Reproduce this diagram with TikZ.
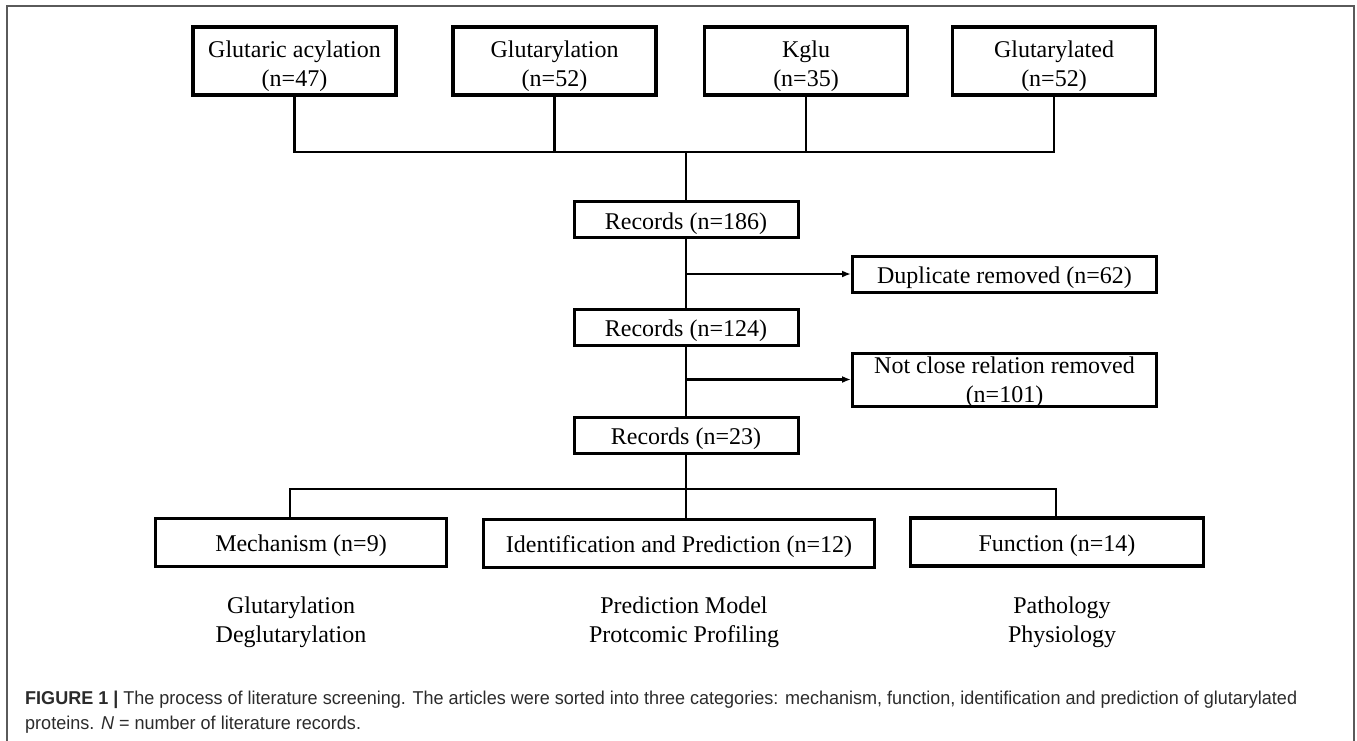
\documentclass[tikz,border=0pt]{standalone}
\usepackage{fontspec}
\usepackage{graphicx}
\setmainfont{Liberation Serif}
\newfontfamily\capfont{Liberation Sans}
\usetikzlibrary{arrows.meta}
\definecolor{framegray}{HTML}{5A5A5A}
\definecolor{captext}{HTML}{2B2B2B}
\newcommand\dfont{\fontsize{24}{29}\selectfont}
% text lowered/raised inside a box without changing the box size
\newcommand\bt[2]{\raisebox{#1}[0pt][0pt]{\begin{tabular}[t]{@{}c@{}}#2\end{tabular}}}
\newlength\capw
\begin{document}
\settowidth\capw{\capfont\fontsize{18.6}{25}\selectfont\textbf{FIGURE 1 |} The process of literature screening. The articles were sorted into three categories: mechanism, function, identification and prediction of glutarylated}
\pgfmathsetmacro\capsx{1272/\capw}
\begin{tikzpicture}[x=1pt,y=-1pt,
  topbox/.style={draw, rectangle, line width=3.8pt, inner sep=0pt, font=\dfont,
    minimum width=203pt, minimum height=68pt},
  recbox/.style={draw, rectangle, line width=3pt, inner sep=0pt, font=\dfont,
    minimum width=224pt, minimum height=36pt},
  sidebox/.style={draw, rectangle, line width=3pt, inner sep=0pt, font=\dfont,
    minimum width=304pt},
  catbox/.style={draw, rectangle, line width=3.4pt, inner sep=0pt, font=\dfont,
    minimum height=48pt},
  sublabel/.style={font=\dfont, inner sep=0pt},
  conn/.style={line width=2.5pt},
  arr/.style={conn, -{Latex[length=9pt,width=7pt]}},
  captxt/.style={anchor=base west, inner sep=0pt, text=captext, font=\capfont\fontsize{18.6}{25}\selectfont}]
\useasboundingbox (0,0) rectangle (1357,740);
% outer frame
\draw[framegray, line width=1.6pt] (7,741) -- (7,6) -- (1354,6) -- (1354,741);

% top boxes
\node[topbox] (t1) at (294.5,61) {\bt{3.7pt}{Glutaric acylation\\(n=47)}};
\node[topbox] (t2) at (554.5,61) {\bt{3.7pt}{Glutarylation\\(n=52)}};
\node[topbox] (t3) at (806,61) {\bt{3.7pt}{Kglu\\(n=35)}};
\node[topbox] (t4) at (1054,61) {\bt{3.7pt}{Glutarylated\\(n=52)}};
\coordinate (hbar) at (0,152);

% records
\node[recbox] (r1) at (686,219.5) {\bt{-9.5pt}{Records (n=186)}};
\node[recbox] (r2) at (686,327) {\bt{-9.5pt}{Records (n=124)}};
\node[recbox] (r3) at (686,435) {\bt{-9.5pt}{Records (n=23)}};

% side boxes
\node[sidebox, minimum height=36pt] (d1) at (1004.5,274) {\bt{-9.2pt}{Duplicate removed (n=62)}};
\node[sidebox, minimum height=53pt] (d2) at (1004.5,379.5) {\bt{5.8pt}{Not close relation removed\\(n=101)}};

% category boxes
\node[catbox, minimum width=291pt] (m) at (301,542.5) {\bt{-9pt}{Mechanism (n=9)}};
\node[catbox, minimum width=391pt] (id) at (679,543.5) {\bt{-9pt}{Identification and Prediction (n=12)}};
\node[catbox, minimum width=293pt] (f) at (1057,542) {\bt{-9pt}{Function (n=14)}};
\coordinate (ms) at (290,489);
\coordinate (fs) at (1056,489);

% sub labels (node centre = first baseline)
\node[sublabel] (s1) at (291,613) {\bt{0pt}{Glutarylation\\Deglutarylation}};
\node[sublabel] (s2) at (684,613) {\bt{0pt}{Prediction Model\\Protcomic Profiling}};
\node[sublabel] (s3) at (1062,613) {\bt{0pt}{Pathology\\Physiology}};

% connectors: top
\draw[conn] (t1.south) -- (t1.south |- hbar) -- (t4.south |- hbar) -- (t4.south);
\draw[conn] (t2.south) -- (t2.south |- hbar);
\draw[conn] (t3.south) -- (t3.south |- hbar);
\draw[conn] (r1.north |- hbar) -- (r1.north);
% trunk
\draw[conn] (r1.south) -- (r2.north);
\draw[conn] (r2.south) -- (r3.north);
\draw[arr] (r1.south |- d1.west) -- (d1.west);
\draw[arr] (r2.south |- d2.west) -- (d2.west);
% bottom branch
\draw[conn] (r3.south) -- (r3.south |- id.north);
\draw[conn] (ms |- m.north) -- (ms) -- (fs) -- (fs |- f.north);

% caption
\node[captxt] (cap1) at (25,704) {\scalebox{\capsx}[1]{\textbf{FIGURE 1 |} The process of literature screening. The articles were sorted into three categories: mechanism, function, identification and prediction of glutarylated}};
\node[captxt] (cap2) at (25,729) {\scalebox{\capsx}[1]{proteins. \textit{N} = number of literature records.}};
\end{tikzpicture}
\end{document}
